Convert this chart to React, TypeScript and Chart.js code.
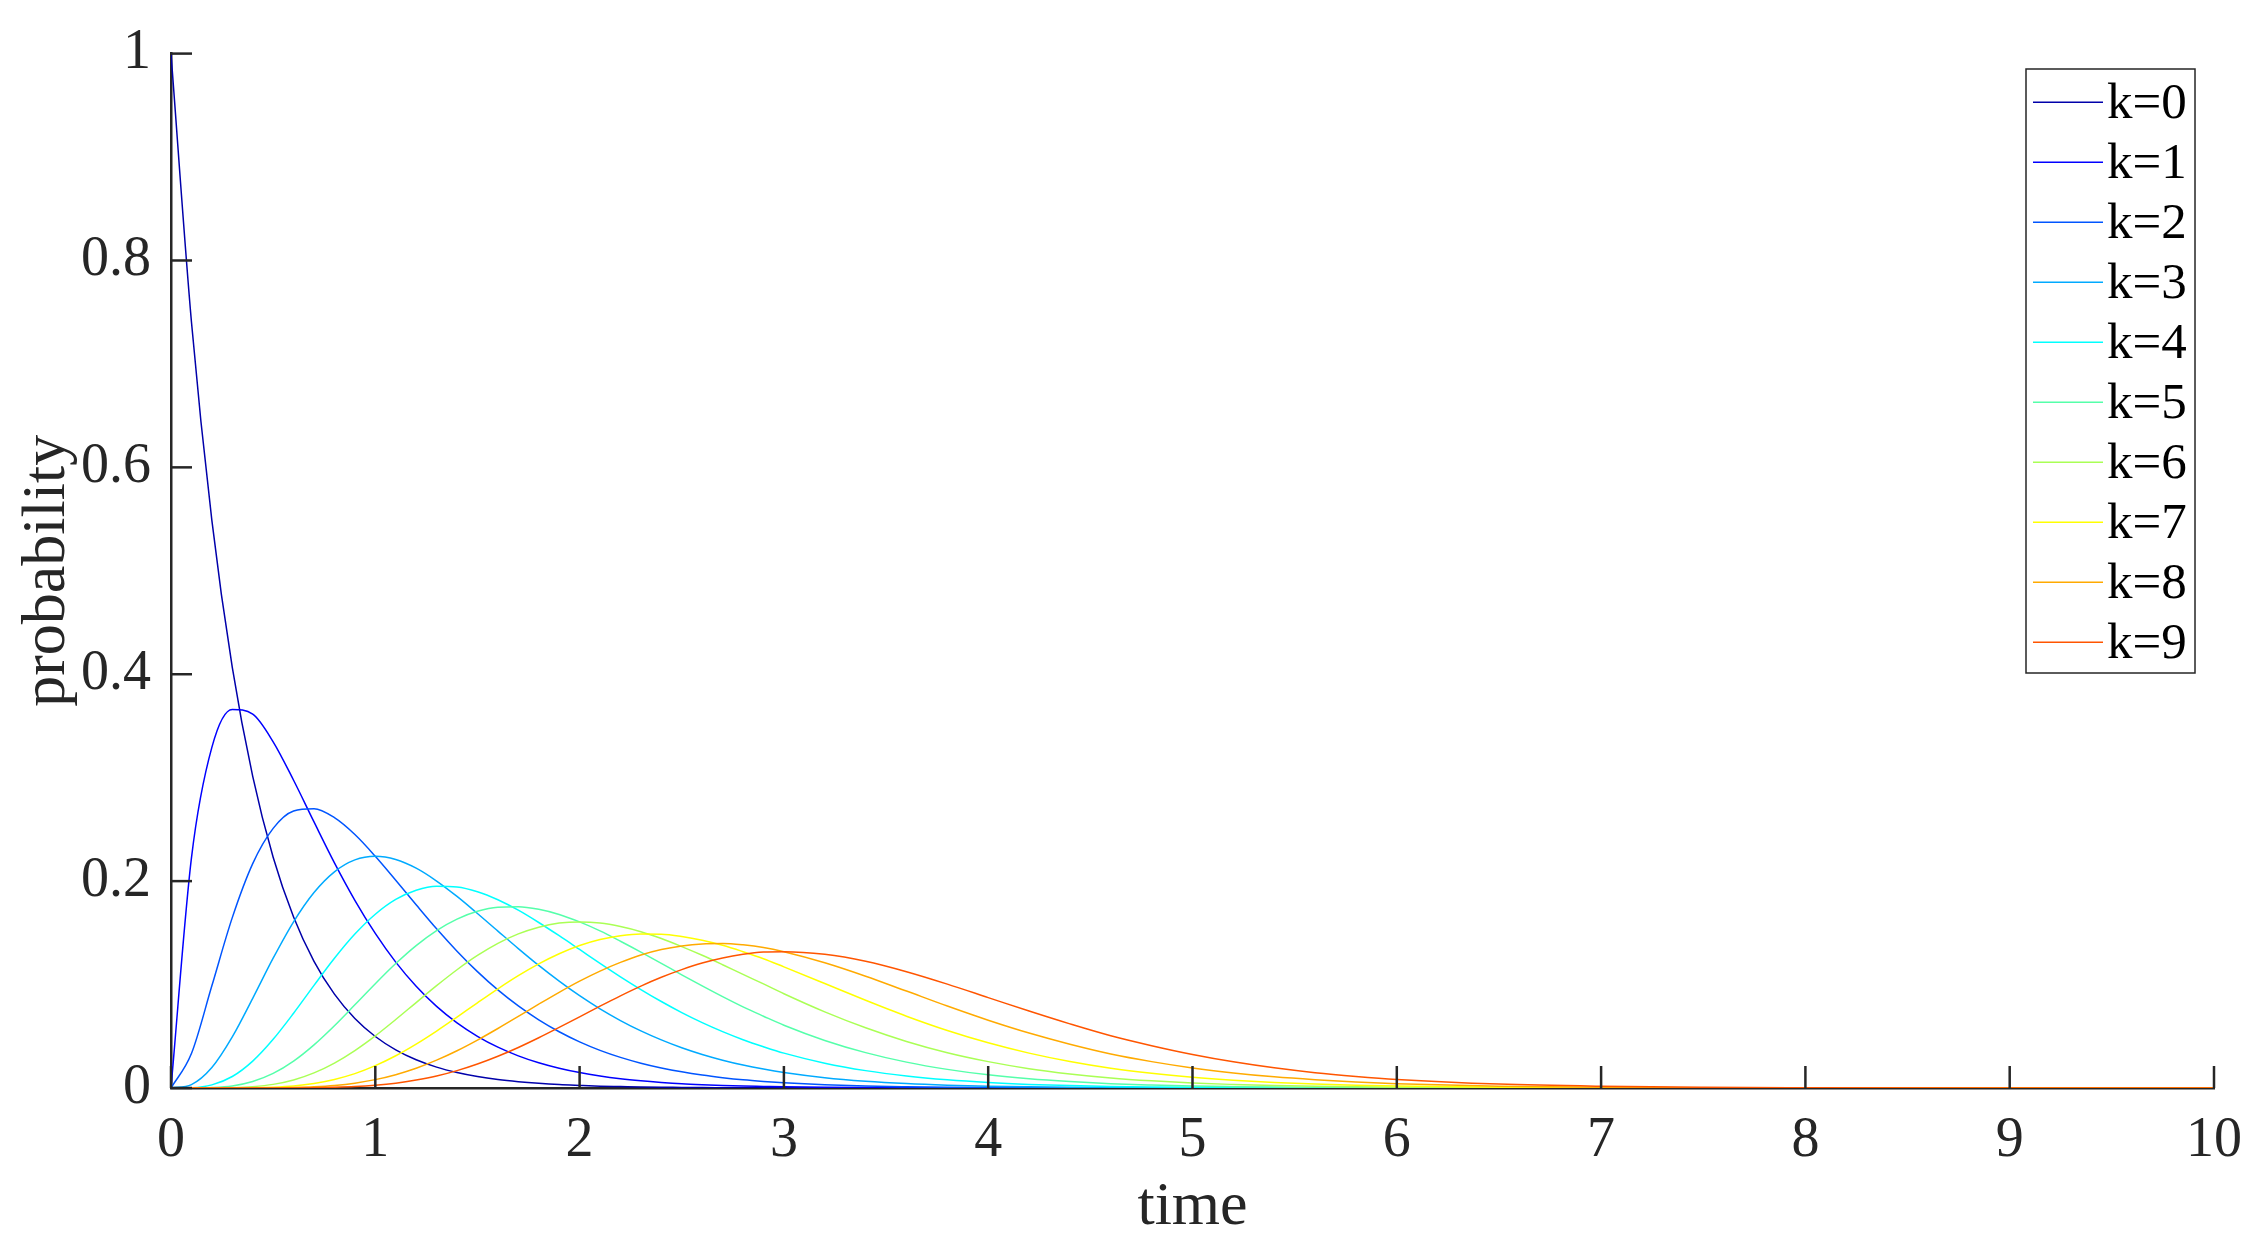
import React, { useEffect, useRef } from 'react';
import { Chart, registerables } from 'chart.js';

Chart.register(...registerables);

// time axis samples
const timeValues = [
  0, 0.1, 0.2, 0.3, 0.4, 0.5, 0.6, 0.7, 0.8, 0.9, 1.0, 1.1, 1.2, 1.3, 1.4, 1.5, 1.6, 1.7, 1.8, 1.9, 2.0,
  2.1, 2.2, 2.3, 2.4, 2.5, 2.6, 2.7, 2.8, 2.9, 3.0,
  3.2, 3.4, 3.6, 3.8, 4.0, 4.2, 4.4, 4.6, 4.8, 5.0, 5.2, 5.4, 5.6, 5.8, 6.0,
  6.5, 7.0, 7.5, 8.0, 9.0, 10.0,
];

const k0 = [
  1, 0.7408, 0.5488, 0.4066, 0.3012, 0.2231, 0.1653, 0.1225, 0.0907, 0.0672, 0.0498, 0.0369, 0.0273, 0.0202, 0.015, 0.0111,
  0.0082, 0.0061, 0.0045, 0.0033, 0.0025, 0.0018, 0.0014, 0.001, 0.0007, 0.0006, 0.0004, 0.0003, 0.0002, 0.0002, 0.0001,
  0.00007, 0.00004, 0.00002, 0.00001, 0.00001, 0, 0, 0, 0, 0, 0, 0, 0, 0, 0,
  0, 0, 0, 0, 0, 0,
];
const k1 = [
  0, 0.2222, 0.3293, 0.3659, 0.3614, 0.3347, 0.2975, 0.2572, 0.2177, 0.1815, 0.1494, 0.1217, 0.0984, 0.0789, 0.063, 0.05,
  0.0395, 0.0311, 0.0244, 0.0191, 0.0149, 0.0116, 0.009, 0.007, 0.0054, 0.0041, 0.0032, 0.0025, 0.0019, 0.0015, 0.0011,
  0.00065, 0.00038, 0.00022, 0.00013, 0.00007, 0.00004, 0.00002, 0.00001, 0.00001, 0, 0, 0, 0, 0, 0,
  0, 0, 0, 0, 0, 0,
];
const k2 = [
  0, 0.0333, 0.0988, 0.1647, 0.2169, 0.251, 0.2678, 0.27, 0.2613, 0.245, 0.224, 0.2008, 0.1771, 0.1539, 0.1323, 0.1125,
  0.0948, 0.0793, 0.0659, 0.0544, 0.0446, 0.0364, 0.0296, 0.024, 0.0194, 0.0156, 0.0125, 0.01, 0.0079, 0.0063, 0.005,
  0.0031, 0.0019, 0.0012, 0.0007, 0.0004, 0.0003, 0.0002, 0.0001, 0.00006, 0.00003, 0.00002, 0.00001, 0.00001, 0, 0,
  0, 0, 0, 0, 0, 0,
];
const k3 = [
  0, 0.0033, 0.0198, 0.0494, 0.0867, 0.1255, 0.1607, 0.189, 0.209, 0.2205, 0.224, 0.2209, 0.2125, 0.2001, 0.1852, 0.1687,
  0.1517, 0.1348, 0.1185, 0.1033, 0.0892, 0.0765, 0.0652, 0.0552, 0.0465, 0.0389, 0.0324, 0.0269, 0.0222, 0.0183, 0.015,
  0.00998, 0.00658, 0.00428, 0.00277, 0.00177, 0.00112, 0.00071, 0.00044, 0.00028, 0.00017, 0.00011, 0.00007, 0.00004, 0.00002, 0.00001,
  0, 0, 0, 0, 0, 0,
];
const k4 = [
  0, 0.0003, 0.003, 0.0111, 0.026, 0.0471, 0.0723, 0.0992, 0.1254, 0.1488, 0.168, 0.1823, 0.1912, 0.1951, 0.1944, 0.1898,
  0.182, 0.1719, 0.16, 0.1472, 0.1339, 0.1205, 0.1075, 0.0952, 0.0836, 0.0729, 0.0632, 0.0545, 0.0467, 0.0399, 0.0337,
  0.024, 0.0168, 0.0116, 0.0079, 0.0053, 0.0035, 0.0023, 0.0015, 0.001, 0.00065, 0.00042, 0.00026, 0.00017, 0.00011, 0.00007,
  0.00002, 0.000006, 0, 0, 0, 0,
];
const k5 = [
  0, 0, 0.0004, 0.002, 0.0063, 0.0141, 0.026, 0.0417, 0.0602, 0.0804, 0.1008, 0.1203, 0.1377, 0.1522, 0.1633, 0.1708,
  0.1748, 0.1753, 0.1728, 0.1678, 0.1606, 0.1519, 0.1419, 0.1314, 0.1205, 0.1094, 0.0987, 0.0883, 0.0784, 0.0694, 0.0607,
  0.046, 0.0342, 0.025, 0.018, 0.0127, 0.0089, 0.0062, 0.0042, 0.0029, 0.0019, 0.0013, 0.00086, 0.00056, 0.00037, 0.00024,
  0.00008, 0.00003, 0.00001, 0, 0, 0,
];
const k6 = [
  0, 0, 0.00004, 0.0003, 0.0013, 0.0035, 0.0078, 0.0146, 0.0241, 0.0362, 0.0504, 0.0662, 0.0826, 0.0989, 0.1143, 0.1281,
  0.1398, 0.149, 0.1555, 0.1594, 0.1606, 0.1595, 0.1561, 0.1511, 0.1445, 0.1367, 0.1283, 0.1192, 0.1098, 0.1006, 0.0911,
  0.0736, 0.0582, 0.045, 0.0341, 0.0255, 0.0187, 0.0136, 0.0097, 0.0069, 0.0048, 0.0034, 0.0023, 0.0016, 0.0011, 0.00072,
  0.00026, 0.00009, 0.00003, 0.00001, 0, 0,
];
const k7 = [
  0, 0, 0, 0.00004, 0.0002, 0.0008, 0.002, 0.0044, 0.0083, 0.0139, 0.0216, 0.0312, 0.0425, 0.0551, 0.0686, 0.0824,
  0.0959, 0.1086, 0.12, 0.1298, 0.1377, 0.1435, 0.1472, 0.1489, 0.1487, 0.1465, 0.1429, 0.138, 0.1318, 0.125, 0.1171,
  0.101, 0.0848, 0.0694, 0.0556, 0.0437, 0.0337, 0.0256, 0.0191, 0.0142, 0.0104, 0.0075, 0.0053, 0.0038, 0.0027, 0.0019,
  0.00072, 0.00027, 0.0001, 0.00003, 0, 0,
];
const k8 = [
  0, 0, 0, 0, 0.00003, 0.0001, 0.0005, 0.0012, 0.0025, 0.0047, 0.0081, 0.0129, 0.0191, 0.0269, 0.036, 0.0463,
  0.0575, 0.0692, 0.081, 0.0925, 0.1033, 0.113, 0.1214, 0.1285, 0.1338, 0.1373, 0.1393, 0.1397, 0.1384, 0.1359, 0.1318,
  0.1211, 0.1081, 0.0937, 0.0792, 0.0655, 0.0531, 0.0423, 0.0329, 0.0255, 0.0194, 0.0146, 0.0108, 0.008, 0.0058, 0.0042,
  0.0018, 0.0007, 0.00028, 0.0001, 0.00001, 0,
];
const k9 = [
  0, 0, 0, 0, 0, 0.00002, 0.0001, 0.0003, 0.0007, 0.0014, 0.0027, 0.0047, 0.0077, 0.0116, 0.0168, 0.0232,
  0.0307, 0.0392, 0.0486, 0.0586, 0.0688, 0.0791, 0.0891, 0.0985, 0.107, 0.1144, 0.1208, 0.1257, 0.1292, 0.1314, 0.1318,
  0.1292, 0.1225, 0.1124, 0.1004, 0.0874, 0.0744, 0.062, 0.0505, 0.0409, 0.0324, 0.0253, 0.0195, 0.0148, 0.0112, 0.0083,
  0.0038, 0.0017, 0.0007, 0.00028, 0.00004, 0.00001,
];

const seriesLabels = ['k=0', 'k=1', 'k=2', 'k=3', 'k=4', 'k=5', 'k=6', 'k=7', 'k=8', 'k=9'];
const seriesColors = [
  'rgb(0,0,170)', 'rgb(0,0,255)', 'rgb(0,85,255)', 'rgb(0,170,255)', 'rgb(0,255,255)',
  'rgb(85,255,170)', 'rgb(170,255,85)', 'rgb(255,255,0)', 'rgb(255,170,0)', 'rgb(255,85,0)',
];

const xAxisTitle = 'time';
const yAxisTitle = 'probability';
const FONT = '"Liberation Serif", "Times New Roman", serif';
const AXIS_COLOR = '#262626';

const inwardTicks = {
  id: 'inwardTicks',
  afterDatasetsDraw(chart: any) {
    const { ctx, chartArea } = chart;
    const xs = chart.scales.x;
    const ys = chart.scales.y;
    ctx.save();
    ctx.strokeStyle = AXIS_COLOR;
    ctx.lineWidth = 2.5;
    xs.ticks.forEach((t: any) => {
      const px = xs.getPixelForValue(t.value);
      ctx.beginPath();
      ctx.moveTo(px, chartArea.bottom);
      ctx.lineTo(px, chartArea.bottom - 22);
      ctx.stroke();
    });
    ys.ticks.forEach((t: any) => {
      const py = ys.getPixelForValue(t.value);
      ctx.beginPath();
      ctx.moveTo(chartArea.left, py);
      ctx.lineTo(chartArea.left + 21, py);
      ctx.stroke();
    });
    ctx.restore();
  },
};

const boxLegend = {
  id: 'boxLegend',
  afterDraw(chart: any) {
    const { ctx } = chart;
    const boxL = 2026, boxT = 69, boxW = 169, boxH = 604;
    const firstRow = 102.3, rowStep = 60;
    ctx.save();
    ctx.fillStyle = '#ffffff';
    ctx.fillRect(boxL, boxT, boxW, boxH);
    ctx.strokeStyle = AXIS_COLOR;
    ctx.lineWidth = 1.5;
    ctx.strokeRect(boxL, boxT, boxW, boxH);
    ctx.font = `51px ${FONT}`;
    ctx.textBaseline = 'middle';
    ctx.textAlign = 'left';
    chart.data.datasets.forEach((ds: any, i: number) => {
      const y = firstRow + i * rowStep;
      ctx.strokeStyle = ds.borderColor;
      ctx.lineWidth = 1.5;
      ctx.beginPath();
      ctx.moveTo(boxL + 7, y);
      ctx.lineTo(boxL + 77, y);
      ctx.stroke();
      ctx.fillStyle = '#000000';
      ctx.fillText(ds.label, boxL + 81, y + 2);
    });
    ctx.restore();
  },
};

export default function App() {
  const ref = useRef<HTMLCanvasElement>(null);

  useEffect(() => {
    document.body.style.margin = '0';
    const series = [k0, k1, k2, k3, k4, k5, k6, k7, k8, k9];
    const chart = new Chart(ref.current as HTMLCanvasElement, {
      type: 'line',
      data: {
        datasets: series.map((vals, i) => ({
          label: seriesLabels[i],
          data: timeValues.map((t, j) => ({ x: t, y: vals[j] })),
          borderColor: seriesColors[i],
          backgroundColor: seriesColors[i],
          borderWidth: 1.5,
          pointRadius: 0,
          cubicInterpolationMode: 'monotone',
          fill: false,
          order: 9 - i,
        })),
      },
      options: {
        responsive: false,
        animation: false,
        devicePixelRatio: 1,
        layout: { padding: { top: 51, right: 52, left: 0, bottom: 0 } },
        plugins: {
          legend: { display: false },
          tooltip: { enabled: false },
        },
        scales: {
          x: {
            type: 'linear',
            min: 0,
            max: 10,
            ticks: {
              stepSize: 1,
              autoSkip: false,
              maxRotation: 0,
              padding: 20,
              color: AXIS_COLOR,
              font: { family: FONT, size: 56 },
            },
            grid: { display: false, drawTicks: false },
            border: { display: true, color: AXIS_COLOR, width: 2.5 },
            title: {
              display: true,
              text: xAxisTitle,
              color: AXIS_COLOR,
              font: { family: FONT, size: 62 },
              padding: { top: 0, bottom: 14 },
            },
            afterFit: (s: any) => { s.height = 171; },
          },
          y: {
            type: 'linear',
            min: 0,
            max: 1,
            ticks: {
              stepSize: 0.2,
              autoSkip: false,
              padding: 20,
              color: AXIS_COLOR,
              font: { family: FONT, size: 56 },
              callback: (v: any) => String(Math.round(Number(v) * 10) / 10),
            },
            grid: { display: false, drawTicks: false },
            border: { display: true, color: AXIS_COLOR, width: 2.5 },
            title: {
              display: true,
              text: yAxisTitle,
              color: AXIS_COLOR,
              font: { family: FONT, size: 62 },
              padding: { top: 11, bottom: 0 },
            },
            afterFit: (s: any) => { s.width = 171; },
          },
        },
      } as any,
      plugins: [inwardTicks, boxLegend],
    });
    return () => chart.destroy();
  }, []);

  return (
    <div style={{ position: 'absolute', left: 0, top: 0 }}>
      <canvas ref={ref} width={2266} height={1259} />
    </div>
  );
}
